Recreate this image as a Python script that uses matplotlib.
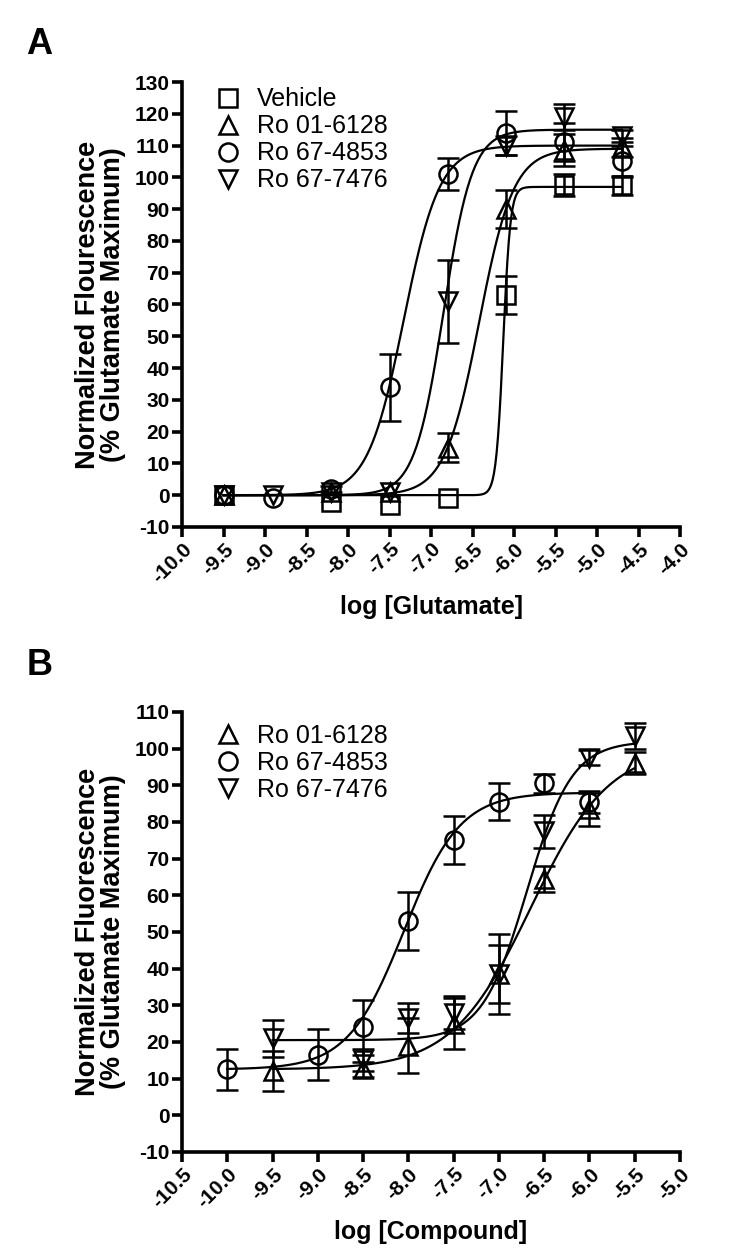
import numpy as np
import matplotlib.pyplot as plt
from matplotlib.lines import Line2D

plt.rcParams['font.family'] = ['Liberation Sans', 'DejaVu Sans']
plt.rcParams['axes.unicode_minus'] = False

# ---- panel A : log [Glutamate] ----
a_names = ['Vehicle', 'Ro 01-6128', 'Ro 67-4853', 'Ro 67-7476']
a_markers = ['s', '^', 'o', 'v']

a_veh_x = [-9.5, -8.2, -7.5, -6.8, -6.1, -5.4, -4.7]
a_veh_y = [0, -2, -3, -1, 63, 97.5, 97.5]
a_veh_err = [0, 0, 0, 0, 6, 3.5, 3]

a_016_x = [-9.5, -8.2, -7.5, -6.8, -6.1, -5.4, -4.7]
a_016_y = [0, 1, 1, 15, 90, 108.5, 109.5]
a_016_err = [0, 0, 0, 4.5, 6, 5, 3]

a_4853_x = [-9.5, -8.9, -8.2, -7.5, -6.8, -6.1, -5.4, -4.7]
a_4853_y = [0, -1, 2, 34, 101, 114, 111, 105]
a_4853_err = [0, 0, 1, 10.5, 5, 7, 6, 5]

a_7476_x = [-9.5, -8.9, -8.2, -7.5, -6.8, -6.1, -5.4, -4.7]
a_7476_y = [0, 0, 1, 1, 61, 110, 119, 113]
a_7476_err = [0, 0, 0, 0, 13, 3, 4, 2]

# fitted curve params: bottom, top, logEC50, hill
a_fits = [(0, 97, -6.13, 10), (0, 109, -6.42, 2.1),
          (0, 110, -7.33, 2.0), (0, 115, -6.85, 2.5)]

# ---- panel B : log [Compound] ----
b_names = ['Ro 01-6128', 'Ro 67-4853', 'Ro 67-7476']
b_markers = ['^', 'o', 'v']

b_016_x = [-9.5, -8.5, -8.0, -7.5, -7.0, -6.5, -6.0, -5.5]
b_016_y = [12, 12.5, 19, 25, 38.5, 64.5, 83.5, 96]
b_016_err = [5.5, 2, 7.5, 7, 11, 3.5, 4.5, 3]

b_4853_x = [-10.0, -9.0, -8.5, -8.0, -7.5, -7.0, -6.5, -6.0]
b_4853_y = [12.5, 16.5, 24, 53, 75, 85.5, 90.5, 85.5]
b_4853_err = [5.5, 7, 7.5, 8, 6.5, 5, 2.5, 3]

b_7476_x = [-9.5, -8.5, -8.0, -7.5, -7.0, -6.5, -6.0, -5.5]
b_7476_y = [21, 15, 26.5, 28, 38.5, 77.5, 97.5, 103.5]
b_7476_err = [5, 3, 4, 4.5, 8, 4.5, 2, 3.5]

b_fits = [(12.5, 100.5, -6.65, 1.0), (12.5, 88, -8.05, 1.4),
          (20.5, 102, -6.69, 1.75)]


def sigmoid(x, bottom, top, ec50, hill):
    return bottom + (top - bottom) / (1 + 10 ** (hill * (ec50 - x)))


def draw_panel(ax, series, names, markers, fits, xlim, ylim, xlabel, ylabel, leg_top):
    for (x, y, e), m, fit in zip(series, markers, fits):
        x = np.array(x); y = np.array(y); e = np.array(e)
        xx = np.linspace(x.min(), x.max(), 300)
        ax.plot(xx, sigmoid(xx, *fit), color='black', lw=1.6, zorder=2)
        k = e > 0
        ax.errorbar(x[k], y[k], yerr=e[k], fmt='none', ecolor='black',
                    elinewidth=1.8, capsize=8, capthick=1.8, zorder=3)
        ax.plot(x, y, ls='none', marker=m, ms=13, mfc='none', mec='black',
                mew=1.8, zorder=4)
    handles = [Line2D([], [], ls='none', marker=m, ms=13, mfc='none',
                      mec='black', mew=1.8) for m in markers]
    ax.legend(handles, names, loc='upper left', bbox_to_anchor=(0.067, leg_top),
              frameon=False, fontsize=18, handlelength=1.0, handletextpad=0.65,
              labelspacing=0.12, borderaxespad=0, borderpad=0)
    ax.set_xlim(*xlim)
    ax.set_ylim(*ylim)
    xt = np.arange(xlim[0], xlim[1] + 0.01, 0.5)
    ax.set_xticks(xt)
    ax.set_xticklabels([f'{v:.1f}' for v in xt], rotation=45, ha='right',
                       rotation_mode='anchor', fontweight='bold', fontsize=15)
    yt = np.arange(ylim[0], ylim[1] + 1, 10)
    ax.set_yticks(yt)
    ax.set_yticklabels([f'{v:d}' for v in yt], fontweight='bold', fontsize=15)
    ax.spines['top'].set_visible(False)
    ax.spines['right'].set_visible(False)
    for s in ['left', 'bottom']:
        ax.spines[s].set_linewidth(2.6)
    ax.tick_params(direction='out', length=7, width=2.6, pad=2)
    ax.set_xlabel(xlabel, fontsize=18, fontweight='bold', labelpad=6)
    ax.set_ylabel(ylabel, fontsize=19.5, fontweight='bold', labelpad=6,
                  linespacing=0.95)


fig = plt.figure(figsize=(7.5, 12.58), dpi=100)

axA = fig.add_axes([0.2427, 0.5811, 0.664, 0.3537])
draw_panel(axA,
           [(a_veh_x, a_veh_y, a_veh_err), (a_016_x, a_016_y, a_016_err),
            (a_4853_x, a_4853_y, a_4853_err), (a_7476_x, a_7476_y, a_7476_err)],
           a_names, a_markers, a_fits, (-10.0, -4.0), (-10, 130),
           'log [Glutamate]',
           'Normalized Flourescence\n(% Glutamate Maximum)', 0.988)

axB = fig.add_axes([0.2427, 0.0843, 0.664, 0.3498])
draw_panel(axB,
           [(b_016_x, b_016_y, b_016_err), (b_4853_x, b_4853_y, b_4853_err),
            (b_7476_x, b_7476_y, b_7476_err)],
           b_names, b_markers, b_fits, (-10.5, -5.0), (-10, 110),
           'log [Compound]',
           'Normalized Fluorescence\n(% Glutamate Maximum)', 0.973)

fig.text(0.035, 0.965, 'A', fontsize=26, fontweight='bold', va='center')
fig.text(0.035, 0.471, 'B', fontsize=26, fontweight='bold', va='center')

fig.savefig('out.png', dpi=100)
